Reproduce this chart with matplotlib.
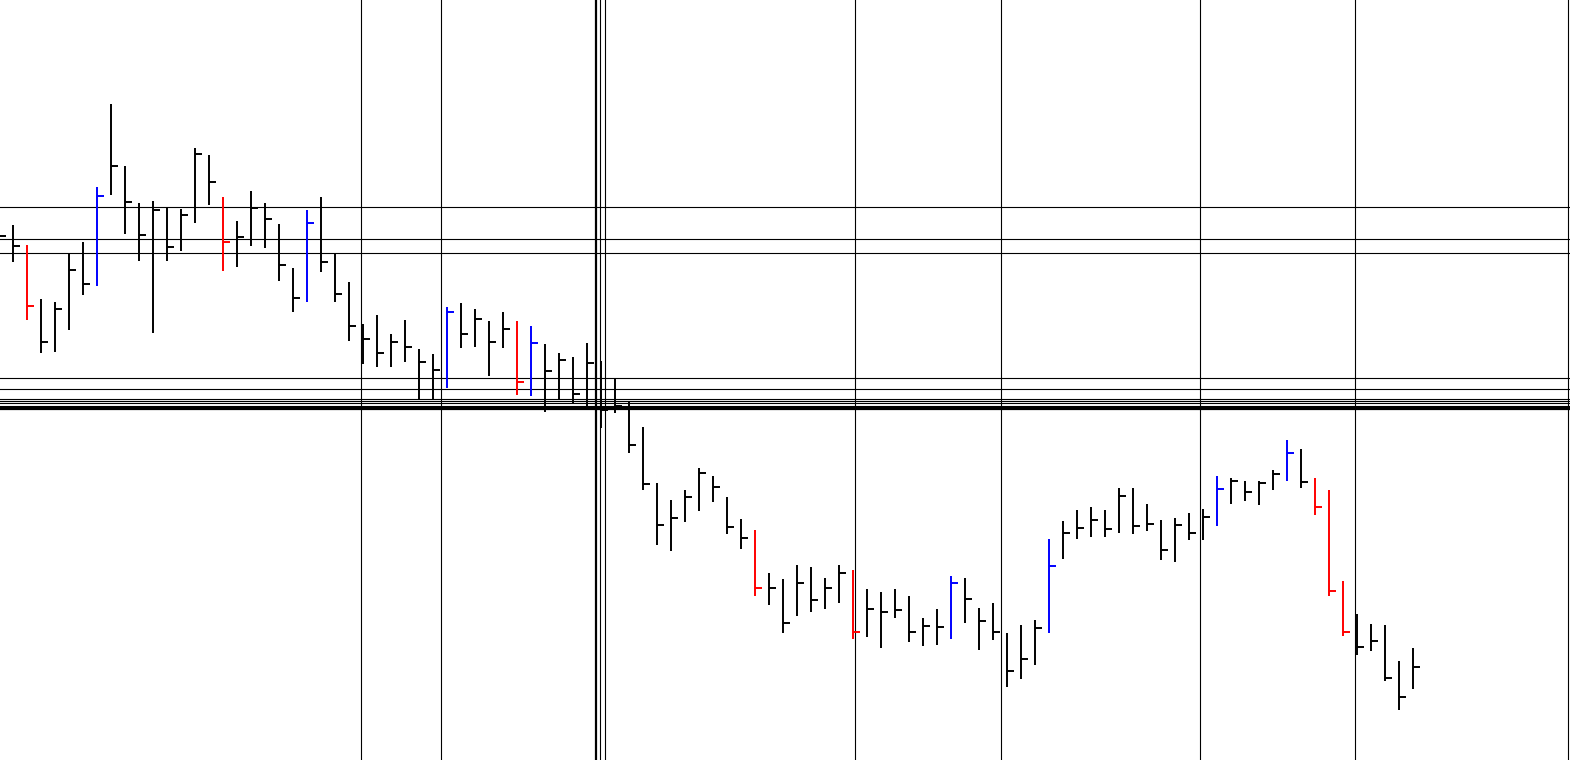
import matplotlib
matplotlib.use("Agg")
import matplotlib.pyplot as plt
import numpy as np

# OHLC bars (no open tick); first bar sits just off the left edge
highs = [54.0,
         53.5, 51.5, 46.1, 45.8, 50.67, 51.8, 57.3, 65.6, 59.4, 55.7,
         55.9, 55.27, 55.1, 61.2, 60.5, 56.3, 53.9, 56.9, 55.7, 53.6,
         49.2, 55.0, 56.3, 50.67, 47.8, 43.63, 44.5, 42.6, 44.0, 41.1,
         40.6, 45.3, 45.7, 45.1, 43.9, 44.8, 43.9, 43.4, 41.6, 40.7,
         40.3, 41.7, 39.9, 38.1, 35.9, 33.27, 27.67, 26.0, 27.0, 29.17,
         28.4, 26.27, 24.1, 23.0, 18.7, 18.1, 19.5, 19.3, 18.2, 19.5,
         19.0, 17.1, 16.8, 17.1, 16.4, 14.2, 15.13, 18.4, 18.2, 15.2,
         15.7, 12.73, 13.53, 14.03, 22.1, 23.9, 25.0, 25.3, 25.0, 27.2,
         27.2, 25.6, 24.0, 24.2, 24.7, 25.1, 28.4, 28.2, 27.9, 27.9,
         29.0, 32.0, 31.1, 28.2, 27.0, 17.9, 14.6, 13.6, 13.5, 9.93,
         11.2]
lows = [51.0,
        49.83, 44.0, 40.73, 40.83, 43.03, 46.53, 47.4, 56.53, 52.6, 49.93,
        42.73, 49.93, 50.9, 53.73, 55.5, 48.9, 49.33, 51.43, 51.2, 47.93,
        44.83, 45.83, 48.8, 45.83, 41.9, 39.63, 39.33, 39.33, 39.83, 36.1,
        36.1, 37.23, 41.23, 41.33, 38.43, 41.23, 36.53, 36.43, 34.83, 36.13,
        35.63, 35.13, 33.23, 34.67, 30.67, 27.03, 21.53, 20.93, 23.83, 24.93,
        25.83, 22.63, 21.13, 16.43, 15.53, 12.73, 14.43, 14.83, 15.13, 15.73,
        12.13, 12.33, 11.23, 14.23, 11.83, 11.43, 11.53, 12.13, 13.73, 11.03,
        12.03, 7.33, 8.13, 9.53, 12.73, 20.13, 22.13, 22.33, 22.33, 22.73,
        22.63, 22.93, 20.03, 19.83, 22.03, 22.03, 23.43, 25.63, 25.93, 25.53,
        27.03, 27.93, 27.23, 24.53, 16.43, 12.43, 10.53, 10.93, 7.93, 5.03,
        7.13]
closes = [52.43,
          51.43, 45.4, 41.8, 45.13, 49.0, 47.63, 56.4, 59.4, 55.83, 52.5,
          55.03, 51.33, 54.5, 60.63, 57.83, 51.8, 52.33, 55.2, 54.13, 49.53,
          46.23, 53.7, 49.83, 46.63, 43.43, 42.1, 40.73, 41.8, 41.33, 39.83,
          39.0, 44.8, 42.63, 44.13, 41.83, 43.13, 37.83, 41.73, 38.93, 40.03,
          36.63, 39.73, 35.0, 35.45, 31.53, 27.63, 23.5, 24.23, 26.33, 28.73,
          27.3, 23.33, 22.23, 17.2, 17.2, 13.73, 17.73, 16.03, 17.23, 18.73,
          12.83, 15.13, 14.83, 15.03, 12.83, 13.43, 13.33, 17.73, 16.13, 13.93,
          12.83, 8.93, 10.13, 13.23, 19.43, 22.75, 23.25, 24.03, 23.13, 26.43,
          23.43, 23.63, 21.03, 23.53, 22.67, 24.33, 27.13, 27.93, 26.8, 27.73,
          28.6, 30.73, 27.83, 25.33, 16.93, 12.83, 11.33, 11.93, 8.23, 6.33,
          9.33]

# bar numbers (first visible bar = 0) that are drawn in colour
red_bars = [1, 15, 36, 53, 60, 93, 94, 95]
blue_bars = [6, 21, 31, 37, 67, 74, 86, 91]

# horizontal price lines and vertical marker lines (in bar units)
hlevels = [55.3, 52.1, 50.7, 38.17, 37.07, 36.07, 35.87, 35.67, 35.45, 35.27]
hlevel_thick = 35.07
vmarks = [24.88, 30.59, 41.96, 42.26, 60.16, 70.54, 84.81, 95.88, 111.1]
vmark_thick = 41.63

n = len(highs)
x = np.arange(n) - 1
colors = ['black'] * n
for b in red_bars:
    colors[b + 1] = 'red'
for b in blue_bars:
    colors[b + 1] = 'blue'

fig = plt.figure(figsize=(15.7, 7.6), dpi=100)
ax = fig.add_axes([0, 0, 1, 1])

for lv in hlevels:
    ax.axhline(lv, color='black', lw=0.8)
ax.axhline(hlevel_thick, color='black', lw=1.6)
for vm in vmarks:
    ax.axvline(vm, color='black', lw=0.8)
ax.axvline(vmark_thick, color='black', lw=1.6)

ax.vlines(x, lows, highs, colors=colors, lw=1.4)
ax.hlines(closes, x, x + 0.5, colors=colors, lw=1.4)

ax.set_xlim(-13 / 14, 1557 / 14)
ax.set_ylim(0, 76)
ax.axis('off')

fig.savefig('out.png', dpi=100, facecolor='white')
